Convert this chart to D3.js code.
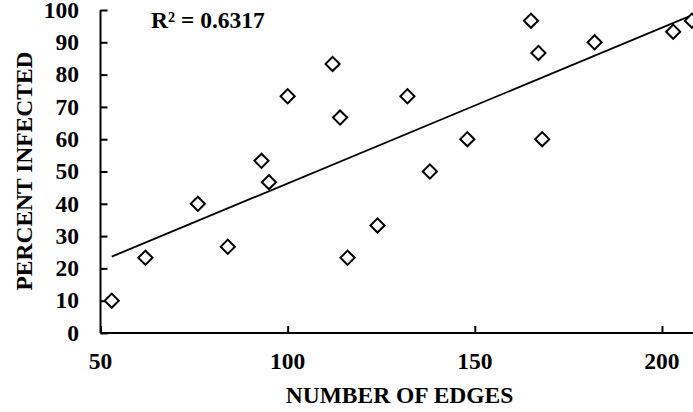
<!DOCTYPE html>
<html><head><meta charset="utf-8">
<script src="https://cdn.jsdelivr.net/npm/d3@7"></script>
<style>body{margin:0;background:#fff}svg{display:block}</style>
</head><body>
<svg id="c" width="693" height="412"></svg>
<script>
const edges    = [53, 62, 76, 84, 93, 95, 100, 112, 114, 116, 124, 132, 138, 148, 165, 167, 168, 182, 203, 208];
const infected = [10, 23.3, 40, 26.7, 53.3, 46.7, 73.3, 83.3, 66.7, 23.3, 33.3, 73.3, 50, 60, 96.7, 86.7, 60, 90, 93.3, 96.7];
const xTicks = [50, 100, 150, 200];
const yTicks = [0, 10, 20, 30, 40, 50, 60, 70, 80, 90, 100];
const r2Label = "R² = 0.6317";
const xTitle = "NUMBER OF EDGES";
const yTitle = "PERCENT INFECTED";

const svg = d3.select("#c");
const x = d3.scaleLinear().domain([50, 210]).range([100.5, 699.4]);
const y = d3.scaleLinear().domain([0, 100]).range([333, 10]);
const font = "Liberation Serif, Times New Roman, DejaVu Serif, serif";

// axes
const ax = svg.append("g").attr("transform", `translate(0,${y(0)})`)
  .call(d3.axisTop(x).tickValues(xTicks).tickSize(7).tickFormat(""));
const ay = svg.append("g").attr("transform", `translate(${x(50)},0)`)
  .call(d3.axisRight(y).tickValues(yTicks).tickSize(7).tickFormat(""));
[ax, ay].forEach(g => {
  g.select(".domain").attr("stroke", "#000").attr("stroke-width", 2);
  g.selectAll(".tick line").attr("stroke", "#000").attr("stroke-width", 2);
});
ax.select(".domain").attr("d", `M${x(50)},0H693`);
ay.select(".domain").attr("d", `M0,${y(100)}V${y(0)}`);

// tick labels
svg.append("g").selectAll("text").data(xTicks).join("text")
  .attr("x", d => x(d)).attr("y", 369).attr("text-anchor", "middle")
  .attr("font-family", font).attr("font-weight", "bold").attr("font-size", 23.5)
  .text(d => d);
svg.append("g").selectAll("text").data(yTicks).join("text")
  .attr("x", 79).attr("y", d => y(d)).attr("dy", "0.33em").attr("text-anchor", "end")
  .attr("font-family", font).attr("font-weight", "bold").attr("font-size", 23.5)
  .text(d => d);

// titles
svg.append("text").attr("x", 399.5).attr("y", 403).attr("text-anchor", "middle")
  .attr("font-family", font).attr("font-weight", "bold").attr("font-size", 23.5)
  .text(xTitle);
svg.append("text").attr("transform", "translate(32,171) rotate(-90)").attr("text-anchor", "middle")
  .attr("font-family", font).attr("font-weight", "bold").attr("font-size", 23.5)
  .text(yTitle);
svg.append("text").attr("x", 151).attr("y", 28)
  .attr("font-family", font).attr("font-weight", "bold").attr("font-size", 23.5)
  .text(r2Label);

// trendline (least squares)
const n = edges.length;
const mx = d3.mean(edges), my = d3.mean(infected);
let sxy = 0, sxx = 0;
for (let i = 0; i < n; i++) { sxy += (edges[i]-mx)*(infected[i]-my); sxx += (edges[i]-mx)**2; }
const b = sxy / sxx, a = my - b*mx;
const x0 = d3.min(edges), x1 = 210;
svg.append("line")
  .attr("x1", x(x0)).attr("y1", y(a + b*x0))
  .attr("x2", x(x1)).attr("y2", y(a + b*x1))
  .attr("stroke", "#000").attr("stroke-width", 1.8);

// points
const sym = d3.symbol().type(d3.symbolSquare).size(100);
svg.append("g").selectAll("path").data(edges.map((e, i) => [e, infected[i]])).join("path")
  .attr("d", sym)
  .attr("transform", d => `translate(${x(d[0])},${y(d[1])}) rotate(45)`)
  .attr("fill", "#fff").attr("stroke", "#000").attr("stroke-width", 2);
</script>
</body></html>
